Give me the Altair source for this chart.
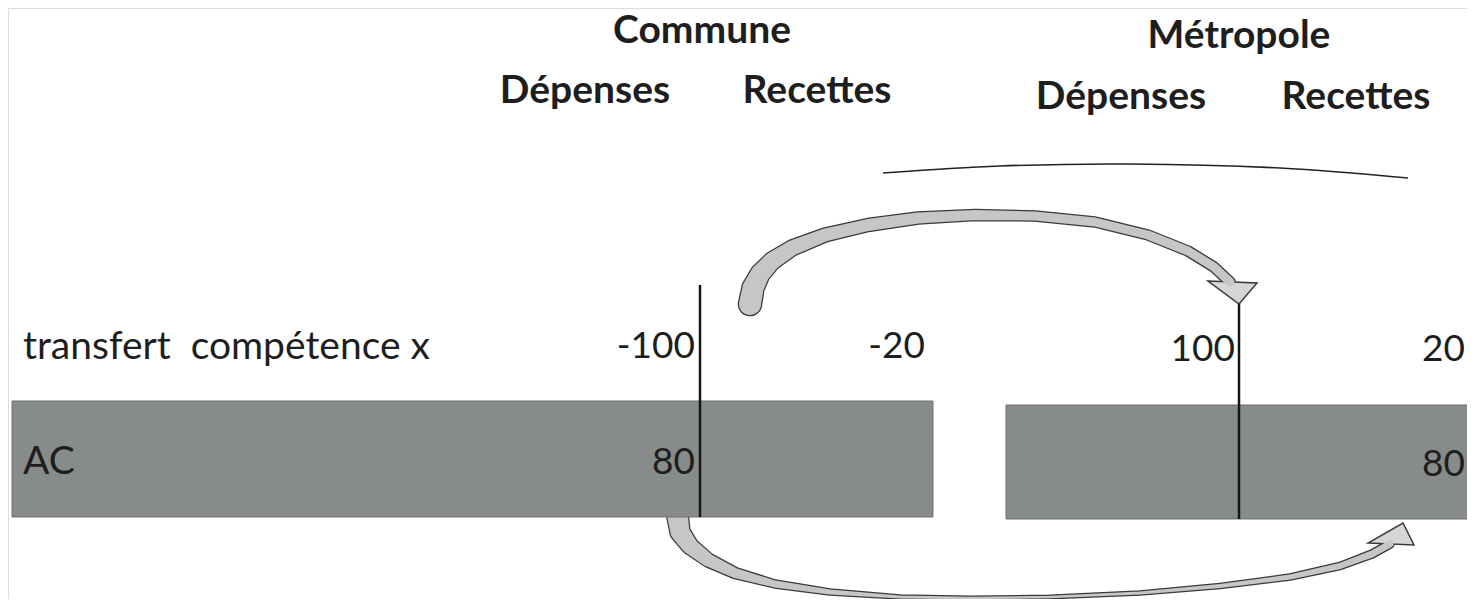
import altair as alt
import pandas as pd

# ---------------- diagram content (image pixel units) ----------------
header_labels = ["Commune", "Métropole"]
header_x = [702, 1239]
header_y = [31, 36]

sub_labels = ["Dépenses", "Recettes", "Dépenses", "Recettes"]
sub_x = [585, 817, 1121, 1356]
sub_y = [91, 91, 97, 97]

row_labels = ["transfert\u00a0 compétence x", "AC"]
row_x = [23, 23]
row_y = [347, 462]

value_labels = ["-100", "-20", "100", "20", "80", "80"]
value_x = [695, 925, 1235, 1465, 695, 1465]
value_y = [347, 347, 350, 350, 463, 465]

bar_x1 = [12, 1006]
bar_x2 = [933, 1471]
bar_y1 = [401, 405]
bar_y2 = [517, 519]

rule_x = [700, 1239]
rule_y1 = [285, 303]
rule_y2 = [517, 519]

bracket_x = [883, 1000, 1130, 1280, 1408]
bracket_y = [173, 166, 164, 168, 178]

# upper arrow (Commune dépenses -> Métropole dépenses)
up_x = [750, 753, 760, 772, 792, 825, 868, 918, 975, 1035, 1095, 1148, 1188, 1214, 1230]
up_y = [304, 288, 274, 261, 248, 235, 225, 218, 215, 216, 222, 235, 251, 267, 282]
up_w = [22, 21, 19, 17, 15, 13, 12, 11, 10, 9, 9, 9, 9, 9, 9]

# lower arrow (Commune AC -> Métropole AC)
lo_x = [677, 680, 690, 708, 735, 775, 830, 900, 970, 1050, 1140, 1220, 1290, 1340, 1372, 1390]
lo_y = [512, 532, 546, 560, 573, 584, 592, 597, 598, 597, 593, 586, 577, 566, 554, 544]
lo_w = [21, 19, 16, 13, 10, 7, 5, 3, 2.5, 2.5, 3, 4, 5, 6, 7, 7]

head_x = [1232, 1391]
head_y = [292, 534]

# ---------------- tables ----------------
headers = pd.DataFrame({"t": header_labels, "x": header_x, "y": header_y})
subs = pd.DataFrame({"t": sub_labels, "x": sub_x, "y": sub_y})
rows = pd.DataFrame({"t": row_labels, "x": row_x, "y": row_y})
vals = pd.DataFrame({"t": value_labels, "x": value_x, "y": value_y})
bars = pd.DataFrame({"x": bar_x1, "x2": bar_x2, "y": bar_y1, "y2": bar_y2})
rules = pd.DataFrame({"x": rule_x, "y": rule_y1, "y2": rule_y2})
bracket = pd.DataFrame({"x": bracket_x, "y": bracket_y, "i": range(len(bracket_x))})
up = pd.DataFrame({"x": up_x, "y": up_y, "w": up_w, "i": range(len(up_x))})
lo = pd.DataFrame({"x": lo_x, "y": lo_y, "w": lo_w, "i": range(len(lo_x))})
up["wo"] = up["w"] + 2.5
lo["wo"] = lo["w"] + 2.5
head_up = pd.DataFrame({"x": [head_x[0]], "y": [head_y[0]]})
head_lo = pd.DataFrame({"x": [head_x[1]], "y": [head_y[1]]})

W, H = 1459, 591
xs = alt.Scale(domain=[8, 8 + W], nice=False, zero=False)
ys = alt.Scale(domain=[8, 8 + H], nice=False, zero=False, reverse=True)
X = lambda f="x": alt.X(f"{f}:Q", scale=xs, axis=None)
Y = lambda f="y": alt.Y(f"{f}:Q", scale=ys, axis=None)

FONT = "Lato"
TXT = "#1e1e1e"

bar_layer = alt.Chart(bars).mark_rect(color="#878b89", stroke="#6f706f", strokeWidth=1).encode(
    x=X(), x2="x2:Q", y=Y(), y2="y2:Q")

rule_layer = alt.Chart(rules).mark_rule(color="#151515", strokeWidth=2.5).encode(
    x=X(), y=Y(), y2="y2:Q")

bracket_layer = alt.Chart(bracket).mark_line(color="#222222", strokeWidth=1.6, interpolate="cardinal").encode(
    x=X(), y=Y(), order="i:Q")

def arrow_layers(df, head_df, head_shape):
    outline = alt.Chart(df).mark_trail(color="#3a3a3a").encode(
        x=X(), y=Y(), order="i:Q", size=alt.Size("wo:Q", scale=None, legend=None))
    head = alt.Chart(head_df).mark_point(shape=head_shape, filled=True, size=2500,
                                         fill="#d6d6d6", stroke="#3a3a3a", strokeWidth=1.5,
                                         opacity=1).encode(x=X(), y=Y())
    body = alt.Chart(df).mark_trail(color="#c6c6c6").encode(
        x=X(), y=Y(), order="i:Q", size=alt.Size("w:Q", scale=None, legend=None))
    return [outline, head, body]

up_layers = arrow_layers(up, head_up, "M-0.96,-0.44L1,-0.36L0.28,0.48Z")
lo_layers = arrow_layers(lo, head_lo, "M-0.92,0.36L0.92,0.44L0.48,-0.44Z")

header_layer = alt.Chart(headers).mark_text(font=FONT, fontSize=39, fontWeight="bold", color=TXT,
                                            align="center", baseline="middle").encode(
    x=X(), y=Y(), text="t:N")
sub_layer = alt.Chart(subs).mark_text(font=FONT, fontSize=39, fontWeight="bold", color=TXT,
                                      align="center", baseline="middle").encode(
    x=X(), y=Y(), text="t:N")
row_layer = alt.Chart(rows).mark_text(font=FONT, fontSize=39, color=TXT,
                                      align="left", baseline="middle").encode(
    x=X(), y=Y(), text="t:N")
val_layer = alt.Chart(vals).mark_text(font=FONT, fontSize=37, color=TXT,
                                      align="right", baseline="middle").encode(
    x=X(), y=Y(), text="t:N")

chart = alt.layer(
    *lo_layers, bar_layer, rule_layer, bracket_layer, *up_layers,
    header_layer, sub_layer, row_layer, val_layer
).properties(
    width=W, height=H, padding=0, autosize="none"
).configure_view(stroke=None).configure(background="white")

chart.save("out.html", embed_options={"renderer": "svg", "actions": False})
